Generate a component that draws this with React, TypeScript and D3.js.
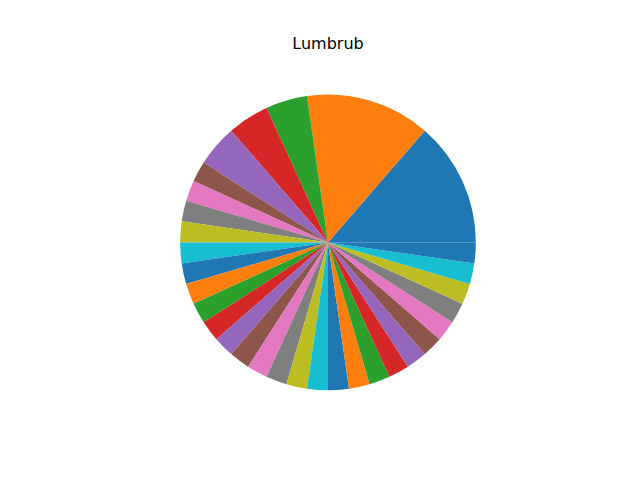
import React from "react";
import * as d3 from "d3";

const title = "Lumbrub";
const values: number[] = [6, 6, 2, 2, 2, 1, 1, 1, 1, 1, 1, 1, 1, 1, 1, 1, 1, 1, 1, 1, 1, 1, 1, 1, 1, 1, 1, 1, 1, 1, 1];
const palette: string[] = ["#1f77b4", "#ff7f0e", "#2ca02c", "#d62728", "#9467bd", "#8c564b", "#e377c2", "#7f7f7f", "#bcbd22", "#17becf"];

export default function App() {
  const W = 640, H = 480;
  const cx = 328, cy = 242.4, r = 147.8;
  const pie = d3.pie<number>().sort(null).value((d) => d).startAngle(Math.PI / 2).endAngle(Math.PI / 2 - 2 * Math.PI);
  const arcs = pie(values);
  const arc = d3.arc<d3.PieArcDatum<number>>().innerRadius(0).outerRadius(r);
  return (
    <svg width={W} height={H} style={{ position: "absolute", left: 0, top: 0, display: "block", background: "#fff" }}>
      <rect width={W} height={H} fill="#fff" />
      <g transform={`translate(${cx},${cy})`}>
        {arcs.map((a, i) => (
          <path key={i} d={arc(a) || ""} fill={palette[i % palette.length]} />
        ))}
      </g>
      <text x={cx} y={49} textAnchor="middle" fontFamily="DejaVu Sans" fontSize={16} fill="#000">{title}</text>
    </svg>
  );
}
